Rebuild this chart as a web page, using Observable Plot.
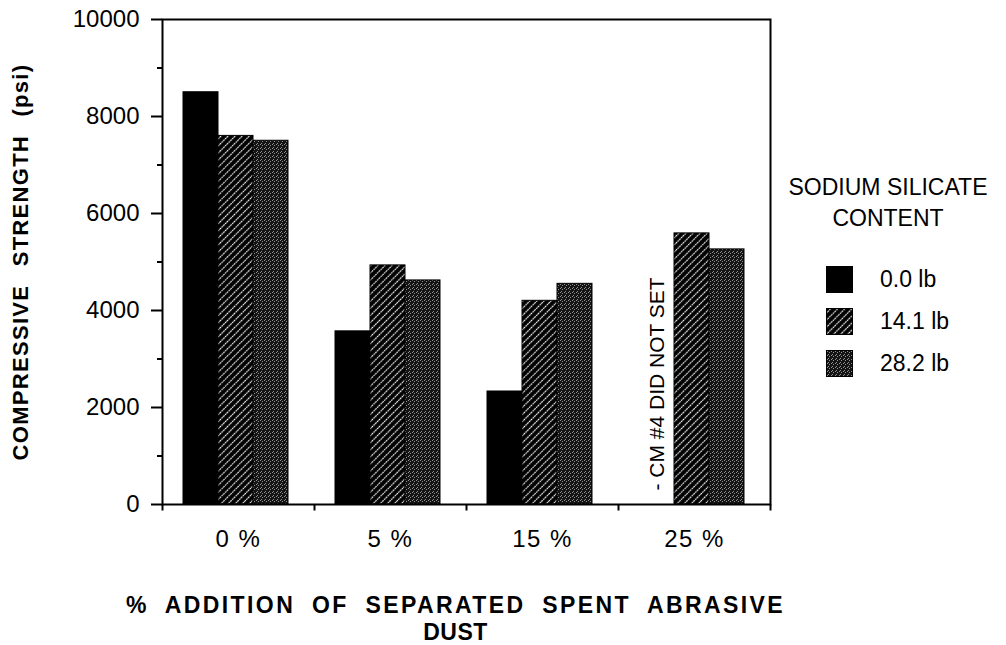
<!DOCTYPE html>
<html>
<head>
<meta charset="utf-8">
<script src="https://cdn.jsdelivr.net/npm/d3@7"></script>
<script src="https://cdn.jsdelivr.net/npm/@observablehq/plot@0.6"></script>
<style>
  html, body { margin: 0; padding: 0; background: white; }
  #wrap { position: relative; width: 1006px; height: 645px; font-family: "Liberation Sans", Arial, sans-serif; color: black; }
  #legendTitle { position: absolute; left: 770px; width: 236px; top: 172px; text-align: center; font-size: 23px; line-height: 31px; }
  #legend { position: absolute; left: 827px; top: 266px; }
  #legend .ss-swatch { font-size: 23px !important; margin-bottom: 15px !important; display: flex; align-items: center; padding: 0 !important; }
  #legend .ss-swatch svg { margin-right: 28px !important; outline: 1px solid black; }
  #legend > * { font-family: "Liberation Sans", Arial, sans-serif; }
</style>
</head>
<body>
<div id="wrap">
  <div id="legendTitle">SODIUM SILICATE<br>CONTENT</div>
  <div id="legend"></div>
</div>
<script>
// ---- data ----
const groups = ["0 %", "5 %", "15 %", "25 %"];
const series = ["0.0 lb", "14.1 lb", "28.2 lb"];
const strength00 = [8500, 3570, 2330, null];   // 0.0 lb (none at 25 %: did not set)
const strength141 = [7600, 4930, 4200, 5590];  // 14.1 lb
const strength282 = [7500, 4620, 4550, 5260];  // 28.2 lb
const yMajorTicks = [0, 2000, 4000, 6000, 8000, 10000];
const yMinorTicks = [1000, 3000, 5000, 7000, 9000];
const yTitle = "COMPRESSIVE STRENGTH (psi)";
const xTitleLines = ["% ADDITION OF SEPARATED SPENT ABRASIVE", "DUST"];
const noteText = "- CM #4 DID NOT SET";
const fills = ["black", "url(#hatch)", "url(#stipple)"];

const valuesBySeries = [strength00, strength141, strength282];
const rows = [];
groups.forEach((g, gi) => series.forEach((s, si) => {
  const v = valuesBySeries[si][gi];
  if (v != null) rows.push({group: g, series: s, value: v});
}));
const note = [{group: "25 %", series: "0.0 lb", value: 0, label: noteText}];

const tickDown = {draw(ctx) { ctx.moveTo(0, 0); ctx.lineTo(0, 6); }};

const chart = Plot.plot({
  width: 1006,
  height: 645,
  marginLeft: 162,
  marginRight: 236,
  marginTop: 19,
  marginBottom: 141,
  style: {fontFamily: "Liberation Sans, Arial, sans-serif", background: "white", color: "black", overflow: "visible"},
  fx: {domain: groups, padding: 0, label: null},
  x: {domain: series, paddingInner: 0, paddingOuter: 0.62, align: 0.45, axis: null},
  y: {domain: [0, 10000], label: null},
  color: {domain: series, range: fills},
  marks: [
    Plot.barY(rows, {fx: "group", x: "series", y: "value", fill: "series", stroke: "black", strokeWidth: 1}),
    Plot.frame({facet: "super", stroke: "black", strokeWidth: 2}),
    Plot.axisY({ticks: yMajorTicks, tickSize: 11, tickPadding: 12, fontSize: 24, strokeWidth: 2, tickFormat: d => String(d), label: null}),
    Plot.axisY({ticks: yMinorTicks, tickSize: 5, tickFormat: () => "", strokeWidth: 2, label: null}),
    Plot.axisFx({anchor: "bottom", tickSize: 0, tickPadding: 25, fontSize: 24, label: null}),
    Plot.dot(groups, {fx: d => d, frameAnchor: "bottom-left", symbol: tickDown, stroke: "black", strokeWidth: 2}),
    Plot.dot(groups.slice(-1), {fx: d => d, frameAnchor: "bottom-right", symbol: tickDown, stroke: "black", strokeWidth: 2}),
    Plot.text(note, {fx: "group", x: "series", y: "value", text: "label", rotate: -90, textAnchor: "start", fontSize: 21, dy: -14}),
    Plot.text([yTitle], {text: d => d, frameAnchor: "left", textAnchor: "middle", rotate: -90, dx: -142, fontSize: 22, fontWeight: "bold", facet: "super"}),
    Plot.text([xTitleLines.join("\n")], {text: d => d, frameAnchor: "bottom", textAnchor: "middle", lineAnchor: "top", dy: 89, dx: -11, fontSize: 23, fontWeight: "bold", lineHeight: 1.17, facet: "super"})
  ]
});

// pattern definitions for the hatched and stippled fills
const defs = d3.select(chart).insert("defs", ":first-child");
const hatch = defs.append("pattern").attr("id", "hatch").attr("patternUnits", "userSpaceOnUse")
  .attr("width", 5).attr("height", 5).attr("patternTransform", "rotate(45)");
hatch.append("rect").attr("width", 5).attr("height", 5).attr("fill", "black");
hatch.append("line").attr("x1", 2.5).attr("y1", 0).attr("x2", 2.5).attr("y2", 5)
  .attr("stroke", "white").attr("stroke-width", 1.2).attr("stroke-dasharray", "1.8 0.7");
const stip = defs.append("pattern").attr("id", "stipple").attr("patternUnits", "userSpaceOnUse")
  .attr("width", 4).attr("height", 4);
stip.append("rect").attr("width", 4).attr("height", 4).attr("fill", "#141414");
[[0, 0], [2, 1], [1, 3]].forEach(([px, py]) =>
  stip.append("rect").attr("x", px).attr("y", py).attr("width", 1).attr("height", 1).attr("fill", "#909090"));

// letter / word spacing for the titles and category labels
function spaceText(match, letter, word) {
  d3.select(chart).selectAll("text, tspan")
    .filter(function () { return match(this.textContent) && (this.tagName === "tspan" || this.querySelector("tspan") == null); })
    .style("letter-spacing", letter + "px")
    .style("word-spacing", word + "px");
}
spaceText(t => t === xTitleLines[0], 2.4, 8);
spaceText(t => t === xTitleLines[1], 0.5, 0);
spaceText(t => t === yTitle, 1.3, 11);
spaceText(t => groups.includes(t), 1.5, 0);

document.getElementById("wrap").prepend(chart);

const legend = Plot.legend({
  color: {domain: series, range: fills, type: "ordinal"},
  legend: "swatches",
  columns: 1,
  swatchSize: 25,
  className: "ss",
  style: {fontSize: "23px", fontFamily: "Liberation Sans, Arial, sans-serif", color: "black"}
});
document.getElementById("legend").append(legend);
</script>
</body>
</html>
